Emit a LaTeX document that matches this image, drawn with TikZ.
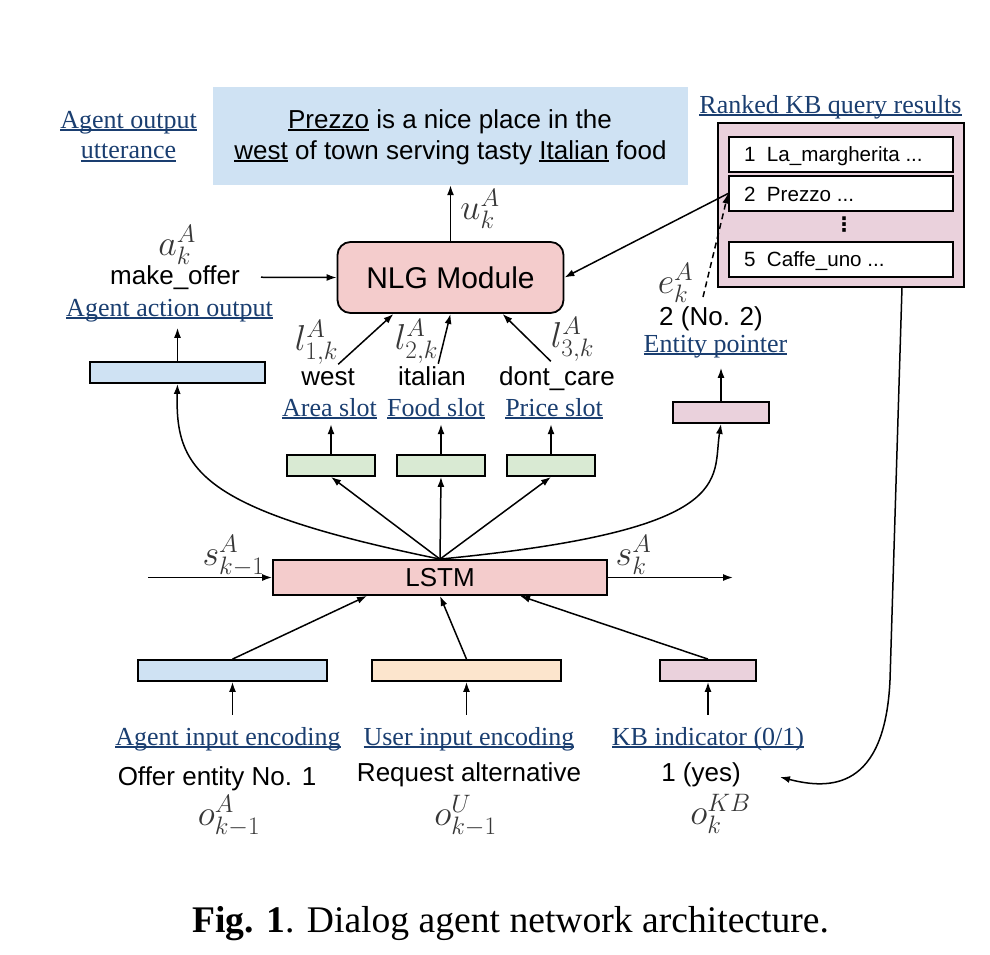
\RequirePackage{fix-cm}
\documentclass[tikz,border=0pt]{standalone}
\usepackage{fontspec}
\setmainfont{Liberation Serif}
\setsansfont{Liberation Sans}
\newfontfamily\dotsfont{DejaVu Sans}
\usepackage{amsmath}
\usetikzlibrary{arrows.meta}
\definecolor{uttblue}{HTML}{CFE2F3}
\definecolor{nlgpink}{HTML}{F4CCCC}
\definecolor{slotgreen}{HTML}{D9EAD3}
\definecolor{userorange}{HTML}{FCE5CD}
\definecolor{kbmauve}{HTML}{EAD1DC}
\definecolor{linkblue}{RGB}{26,62,112}
\definecolor{symgray}{RGB}{55,55,55}
\newcommand{\ulin}[1]{\setbox0=\hbox{#1}\rlap{\rule[-3pt]{\wd0}{1.6pt}}\box0\relax}
\tikzstyle{vec}=[draw, line width=1.8pt, inner sep=0pt, minimum height=21pt]
\tikzstyle{word}=[font=\sffamily\fontsize{26}{30}\selectfont, inner sep=0pt]
\tikzstyle{link}=[font=\rmfamily\fontsize{26}{30}\selectfont, text=linkblue, inner sep=0pt]
\tikzstyle{sym}=[font=\fontsize{36}{40}\selectfont, text=symgray, inner sep=0pt]
\tikzstyle{rowtext}=[font=\sffamily\fontsize{20.6}{24}\selectfont, inner sep=0pt, anchor=base west]
\tikzstyle{flow}=[-{Latex[length=10pt,width=7pt]}, line width=1.5pt]

\begin{document}
\begin{tikzpicture}[x=1pt, y=-1pt]
        \useasboundingbox (0,0) rectangle (990,954);
        % output utterance
        \node[fill=uttblue, minimum width=475pt, minimum height=98pt, inner sep=0pt] (utt) at (450.5,136) {};
        \node[word, anchor=base] (utt1) at (450,128) {\ulin{Prezzo} is a nice place in the};
        \node[word, anchor=base] (utt2) at (450.5,159) {\ulin{west} of town serving tasty \ulin{Italian} food};
        \node[link, anchor=base] (uttlbl1) at (128.5,128) {\ulin{Agent output}};
        \node[link, anchor=base] (uttlbl2) at (128.5,158.5) {\ulin{utterance}};
        \node[sym] (usym) at (480,209) {$u_k^A$};
        % NLG module
        \node[draw, line width=1.8pt, fill=nlgpink, rounded corners=13pt, minimum width=226pt, minimum height=71pt,
              inner sep=0pt, font=\sffamily\fontsize{30}{34}\selectfont] (nlg) at (450.5,277.5) {NLG Module};
        % agent action
        \node[sym] (asym) at (177,245) {$a_k^A$};
        \node[word, anchor=base] (offer) at (175,284) {make\_offer};
        \node[link, anchor=base] (actlbl) at (169.5,316) {\ulin{Agent action output}};
        \node[vec, fill=uttblue, minimum width=175pt] (actvec) at (177.5,372.5) {};
        % slots
        \node[sym] (larea) at (316.5,342) {$l_{1,k}^A$};
        \node[sym] (lfood) at (416.5,341.5) {$l_{2,k}^A$};
        \node[sym] (lprice) at (572.5,339) {$l_{3,k}^A$};
        \node[word, anchor=base] (west) at (328,385) {west};
        \node[word, anchor=base] (italian) at (432,385) {italian};
        \node[word, anchor=base] (dontcare) at (557,385) {dont\_care};
        \node[link, anchor=base] (arealbl) at (329.5,416) {\ulin{Area slot}};
        \node[link, anchor=base] (foodlbl) at (436,416) {\ulin{Food slot}};
        \node[link, anchor=base] (pricelbl) at (554,416) {\ulin{Price slot}};
        \node[vec, fill=slotgreen, minimum width=88pt] (area) at (331,465.5) {};
        \node[vec, fill=slotgreen, minimum width=88pt] (food) at (441,465.5) {};
        \node[vec, fill=slotgreen, minimum width=88pt] (price) at (551,465.5) {};
        % entity pointer
        \node[sym] (esym) at (675.5,283) {$e_k^A$};
        \node[word, anchor=base] (entval) at (711,325) {2 (No. 2)};
        \node[link, anchor=base] (entlbl) at (715.5,352) {\ulin{Entity pointer}};
        \node[vec, fill=kbmauve, minimum width=96pt] (ent) at (721,412.5) {};
        \coordinate (eptr) at (703,297);
        % ranked KB query results
        \node[link, anchor=base] (kblbl) at (830.5,113) {\ulin{Ranked KB query results}};
        \node[draw, line width=1.8pt, fill=kbmauve, minimum width=246pt, minimum height=164pt, inner sep=0pt] (kbres) at (841,205) {};
        \node[draw, line width=1.8pt, fill=white, minimum width=224pt, minimum height=35pt, inner sep=0pt] (row1) at (841,154.5) {};
        \node[draw, line width=1.8pt, fill=white, minimum width=224pt, minimum height=35pt, inner sep=0pt] (row2) at (841,193.5) {};
        \node[draw, line width=1.8pt, fill=white, minimum width=224pt, minimum height=35pt, inner sep=0pt] (row5) at (841,259.5) {};
        \node[rowtext] (row1txt) at (744,161.5) {1\hspace{0.55em}La\_margherita ...};
        \node[rowtext] (row2txt) at (744,201) {2\hspace{0.55em}Prezzo ...};
        \node[rowtext] (row5txt) at (744,266) {5\hspace{0.55em}Caffe\_uno ...};
        \node[font=\dotsfont\bfseries\fontsize{20}{24}\selectfont, inner sep=0pt] (rowgap) at (844,225) {⋮};
        \coordinate (kbtap) at (902,287);
        \coordinate (kbback) at (780,777);
        % LSTM
        \node[draw, line width=1.8pt, fill=nlgpink, minimum width=334pt, minimum height=35pt, inner sep=0pt,
              font=\sffamily\fontsize{26}{30}\selectfont] (lstm) at (440,577.5) {LSTM};
        \node[sym] (sprev) at (233.5,555.5) {$s_{k-1}^A$};
        \node[sym] (snext) at (633.5,555) {$s_k^A$};
        \coordinate (sin) at (148,577.5);
        \coordinate (sout) at (733,577.5);
        % inputs
        \node[vec, fill=uttblue, minimum width=189pt] (agentvec) at (232.5,670.5) {};
        \node[vec, fill=userorange, minimum width=189pt] (uservec) at (466.5,670.5) {};
        \node[vec, fill=kbmauve, minimum width=96pt] (kbvec) at (708,670.5) {};
        \node[link, anchor=base] (agentlbl) at (228,745) {\ulin{Agent input encoding}};
        \node[link, anchor=base] (userlbl) at (469,745) {\ulin{User input encoding}};
        \node[link, anchor=base] (kbind) at (708,745) {\ulin{KB indicator (0/1)}};
        \node[word, anchor=base] (agentval) at (217,785) {Offer entity No. 1};
        \node[word, anchor=base] (userval) at (469,781) {Request alternative};
        \node[word, anchor=base] (kbval) at (701,781) {1 (yes)};
        \node[sym] (oagent) at (229,816) {$o_{k-1}^A$};
        \node[sym] (ouser) at (465.5,816) {$o_{k-1}^U$};
        \node[sym] (okb) at (720.5,814) {$o_k^{KB}$};
        % caption
        \node[font=\rmfamily\fontsize{37.6}{44}\selectfont, anchor=base, inner sep=0pt] (caption) at (510.5,932.5)
              {\textbf{Fig. 1}. Dialog agent network architecture.};

        \draw[flow] (nlg.north) -- (utt.south);
        \draw[flow, shorten <=21pt] (offer.east) -- (nlg.west);
        \draw[flow, shorten >=6pt] (actvec.north) -- (actlbl.south -| actvec.north);
        \draw[flow] (larea.south east) -- ([xshift=-57pt]nlg.south);
        \draw[flow] (lfood.south east) -- (nlg.south);
        \draw[flow] (lprice.south west) -- ([xshift=52pt]nlg.south);
        \draw[flow, shorten >=5pt] (area.north) -- (arealbl.south -| area.north);
        \draw[flow, shorten >=5pt] (food.north) -- (foodlbl.south -| food.north);
        \draw[flow, shorten >=5pt] (price.north) -- (pricelbl.south -| price.north);
        \draw[flow, shorten >=10pt] (ent.north) -- (entlbl.south -| ent.north);
        \draw[flow] (row2.west) -- (nlg.east);
        \draw[flow, dash pattern=on 6pt off 4pt] (eptr) -- (row2.west);
        \draw[flow] (lstm.north) -- (area.south);
        \draw[flow] (lstm.north) -- (food.south);
        \draw[flow] (lstm.north) -- (price.south);
        \draw[flow] (lstm.north) .. controls (200,510) and (175,470) .. (actvec.south);
        \draw[flow] (lstm.north) .. controls (740,530) and (712,480) .. (ent.south);
        \draw[flow] (sin) -- (lstm.west);
        \draw[flow] (lstm.east) -- (sout);
        \draw[flow] (agentvec.north) -- ([xshift=-73pt]lstm.south);
        \draw[flow] (uservec.north) -- (lstm.south);
        \draw[flow] (kbvec.north) -- ([xshift=80pt]lstm.south);
        \draw[flow, shorten <=12pt] (agentlbl.north -| agentvec.south) -- (agentvec.south);
        \draw[flow, shorten <=12pt] (userlbl.north -| uservec.south) -- (uservec.south);
        \draw[flow, shorten <=12pt] (kbind.north -| kbvec.south) -- (kbvec.south);
        \draw[flow] (kbtap) -- (890,680) .. controls (885,790) and (830,790) .. (kbback);
    \end{tikzpicture}
\end{document}
